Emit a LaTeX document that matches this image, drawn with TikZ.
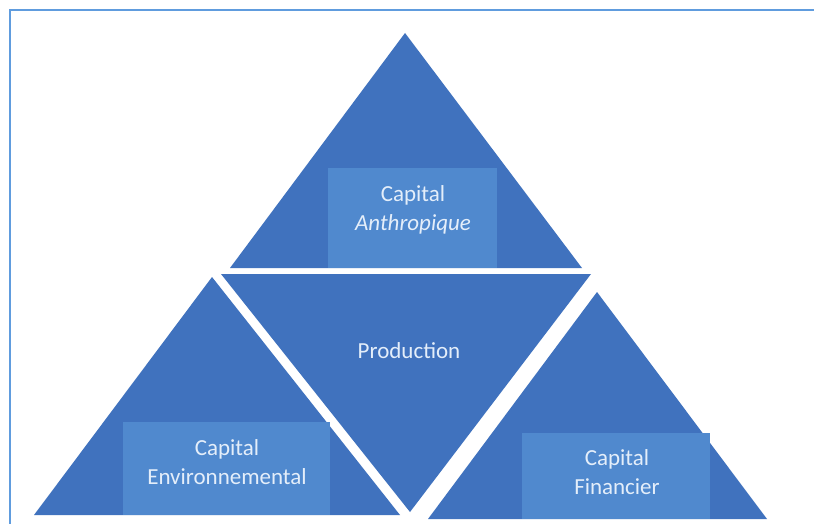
\documentclass[tikz,border=0pt]{standalone}
\usepackage{fontspec}
\setmainfont{Carlito}
\definecolor{triblue}{RGB}{64,114,190}
\definecolor{boxblue}{RGB}{80,137,206}
\definecolor{framecol}{RGB}{96,156,222}
\definecolor{txtcol}{RGB}{228,238,250}
\begin{document}
\begin{tikzpicture}[x=1pt,y=-1pt,
  tri/.style={fill=triblue},
  lbox/.style={fill=boxblue},
  lbl/.style={text=txtcol,align=center,inner sep=0pt,font=\fontsize{23}{29}\selectfont}]
\useasboundingbox (0,0) rectangle (814,524);
\fill[white] (0,0) rectangle (814,524);
% frame
\draw[framecol,line width=2.5pt] (10,530) -- (10,10) -- (820,10);
% top triangle
\fill[tri] (405,33) -- (582,268) -- (230,268) -- cycle;
\fill[lbox] (328,168) rectangle (497,268);
% production triangle
\fill[tri] (221,274) -- (591,274) -- (410,512) -- cycle;
% left triangle
\fill[tri] (212,277) -- (400,515) -- (34,515) -- cycle;
\fill[lbox] (123,422) rectangle (330,515);
% right triangle
\fill[tri] (597,292) -- (767,519) -- (428,519) -- cycle;
\fill[lbox] (522,433) rectangle (710,519);
% labels
\node[lbl] (anthro) at (413,210) {Capital\\\textit{Anthropique}};
\node[lbl] (prod) at (409,351) {Production};
\node[lbl] (env) at (227,462) {Capital\\Environnemental};
\node[lbl] (fin) at (617,472) {Capital\\Financier};
\end{tikzpicture}
\end{document}
